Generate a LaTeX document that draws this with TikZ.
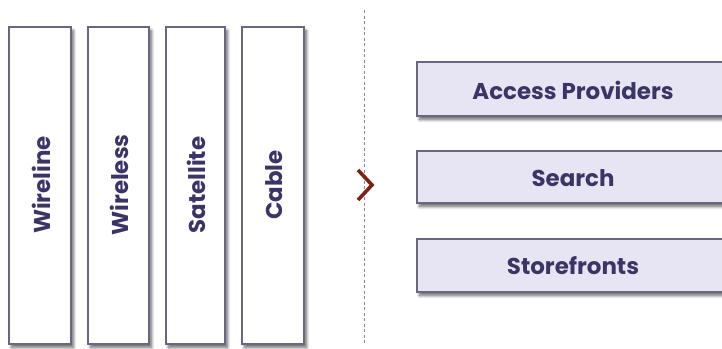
\documentclass[tikz,border=0pt]{standalone}
\usepackage{fontspec}
\setmainfont{Poppins}
\usetikzlibrary{shadows.blur}
\definecolor{ink}{HTML}{3B3566}
\definecolor{edge}{HTML}{6A6680}
\definecolor{lav}{HTML}{E7E5F3}
\definecolor{chev}{HTML}{7A2418}
\begin{document}
\begin{tikzpicture}[x=1bp,y=-1bp,
  soft/.style={blur shadow={shadow xshift=2.5bp,shadow yshift=-3.5bp,shadow blur radius=3bp,shadow blur steps=8,shadow opacity=60}},
  column/.style={draw=edge,line width=1.3bp,fill=white,soft},
  band/.style={draw=edge,line width=1.3bp,fill=lav,soft},
  label/.style={font=\bfseries\fontsize{23}{26}\selectfont,text=ink}]
\useasboundingbox (0,0) rectangle (722,348);
\clip (0,0) rectangle (722,348);
% access technologies
\draw[column] (9,27) rectangle (71,344);
\draw[column] (88,27) rectangle (149,344);
\draw[column] (166,27) rectangle (225,344);
\draw[column] (242,27) rectangle (304,344);
\node[label,rotate=90] (wireline) at (41,185) {Wireline};
\node[label,rotate=90] (wireless) at (119,185) {Wireless};
\node[label,rotate=90] (satellite) at (196,185) {Satellite};
\node[label,rotate=90] (cable) at (274,185) {Cable};
% divider
\coordinate (dtop) at (364,10);
\coordinate (dbot) at (364,344);
\draw[edge!80,dash pattern=on 3bp off 2.5bp,line width=0.9bp] (dtop) -- (dbot);
\coordinate (chA) at (358,170);
\coordinate (chB) at (372,185);
\coordinate (chC) at (358,200);
\draw[chev,line width=3.6bp] (chA) -- (chB) -- (chC);
% services
\draw[band] (417,62) rectangle (740,116);
\draw[band] (417,151) rectangle (740,203);
\draw[band] (417,239) rectangle (740,292);
\node[label] (access) at (573,90) {Access Providers};
\node[label] (search) at (573,178) {Search};
\node[label] (store) at (573,266) {Storefronts};
\end{tikzpicture}
\end{document}
